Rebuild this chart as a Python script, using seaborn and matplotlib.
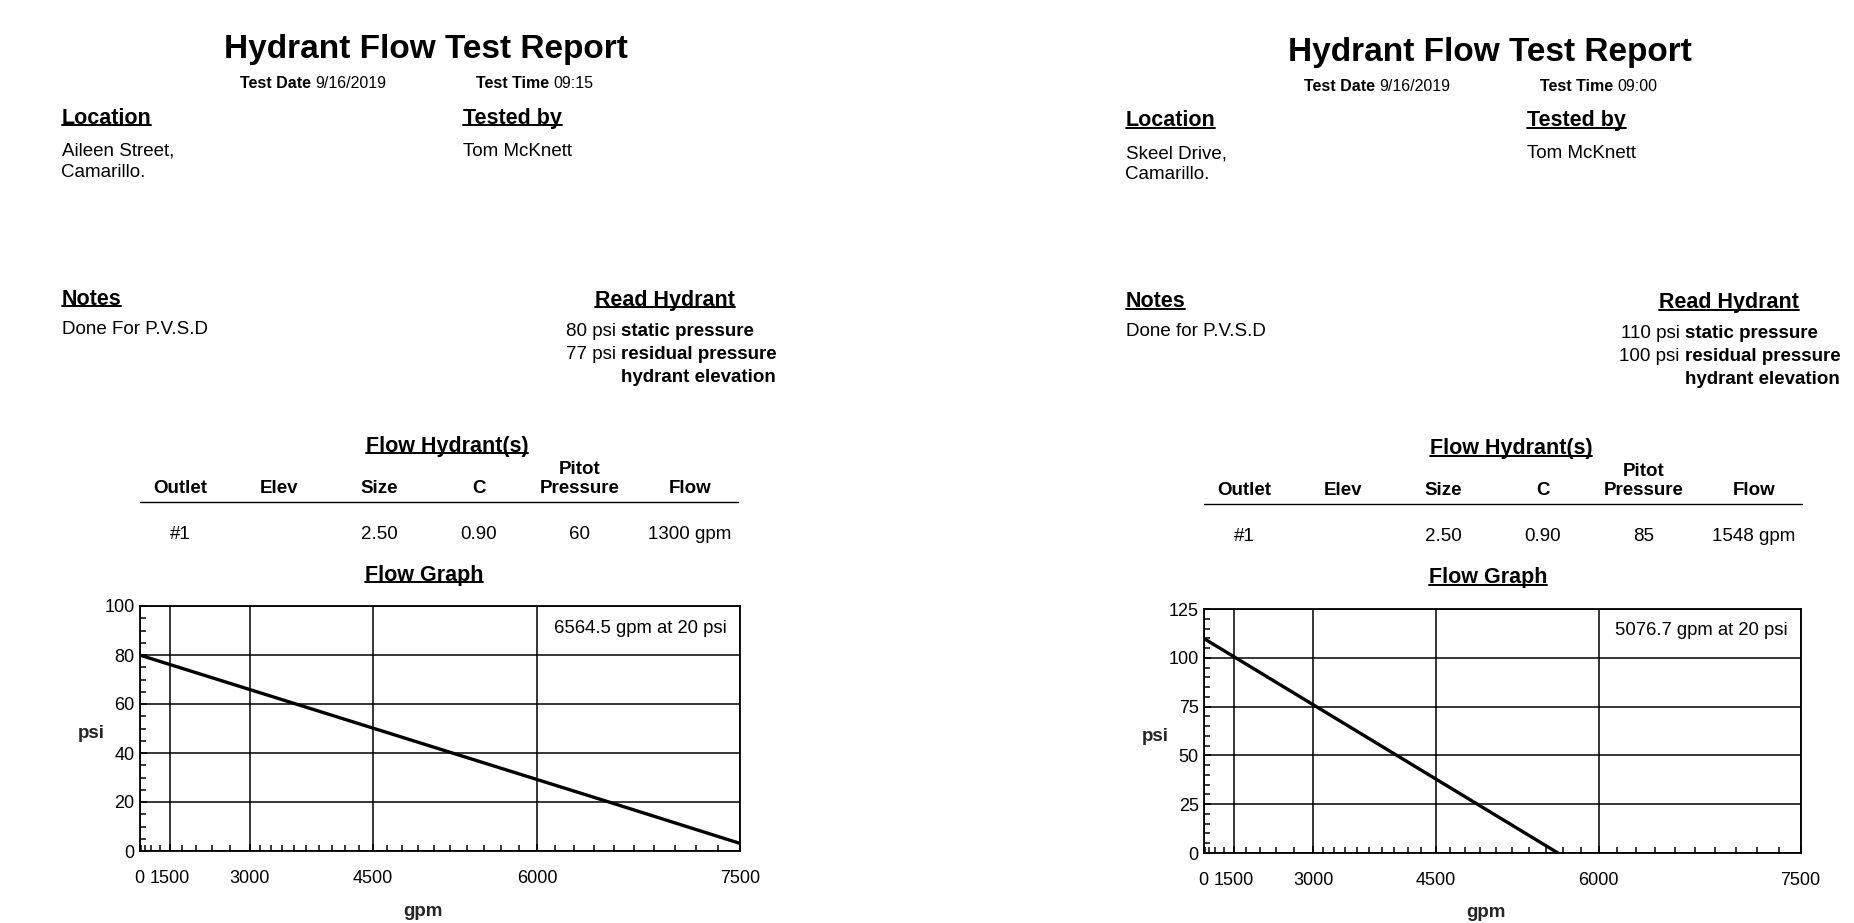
import numpy as np
import matplotlib

matplotlib.use("Agg")
import matplotlib.pyplot as plt
import seaborn as sns
from matplotlib.lines import Line2D

W, H = 1854, 923
PX = 100 / 72  # pixels per point at dpi 100

# Report contents, left report first
report_title = "Hydrant Flow Test Report"
test_dates = ["9/16/2019", "9/16/2019"]
test_times = ["09:15", "09:00"]
locations = [["Aileen Street,", "Camarillo."], ["Skeel Drive,", "Camarillo."]]
testers = ["Tom McKnett", "Tom McKnett"]
notes = ["Done For P.V.S.D", "Done for P.V.S.D"]
static_psi = [80, 110]
residual_psi = [77, 100]
outlet_cols = ["Outlet", "Elev", "Size", "C", "Pressure", "Flow"]
outlet_rows = [
    ["#1", "", "2.50", "0.90", "60", "1300 gpm"],
    ["#1", "", "2.50", "0.90", "85", "1548 gpm"],
]
flow_at_20 = ["6564.5 gpm at 20 psi", "5076.7 gpm at 20 psi"]

# Flow graph (x axis is N^1.85 hydraulic paper)
gpm_ticks = [0, 1500, 3000, 4500, 6000, 7500]
psi_ticks = [[0, 20, 40, 60, 80, 100], [0, 25, 50, 75, 100, 125]]
flow_gpm = [[0, 1300, 6564.5, 7500], [0, 1548, 5076.7, 5658]]
flow_psi = [[80, 77, 20, 3.1], [110, 100, 20, 0]]


def fwd(x):
    x = np.asarray(x, dtype=float)
    return np.sign(x) * np.abs(x) ** 1.85


def inv(x):
    x = np.asarray(x, dtype=float)
    return np.sign(x) * np.abs(x) ** (1 / 1.85)


sns.set_style("ticks")
plt.rcParams["font.family"] = ["Liberation Sans", "DejaVu Sans"]
plt.rcParams["axes.edgecolor"] = "black"
plt.rcParams["text.color"] = "black"
plt.rcParams["xtick.color"] = "black"
plt.rcParams["ytick.color"] = "black"

fig = plt.figure(figsize=(W / 100, H / 100), dpi=100)
renderer = fig.canvas.get_renderer()


def put(x, y, s, size, bold=False, ha="left"):
    # y is the visual middle of the text line; va=center sits a bit high
    return fig.text(x / W, 1 - (y + 2.4) / H, s, ha=ha, va="center", fontsize=size,
                    fontweight="bold" if bold else "normal")


def right_of(t, s, size, bold=False):
    bb = t.get_window_extent(renderer=renderer)
    x = bb.x1 + 0.28 * size * PX
    y = H - (bb.y0 + bb.y1) / 2 - 2.4
    return put(x, y, s, size, bold)


def underline(t, size):
    bb = t.get_window_extent(renderer=renderer)
    ly = (bb.y0 + 0.16 * size * PX) / H
    fig.add_artist(Line2D([bb.x0 / W, bb.x1 / W], [ly, ly], color="black", lw=1.4))


def header(x, y, s, ha="left", size=15.5):
    t = put(x, y, s, size, True, ha)
    underline(t, size)
    return t


def report(k, dx, dy, ax_rect):
    X = lambda v: v + dx
    Y = lambda v: v + dy

    put(X(425.5), Y(47.5), report_title, 24, True, "center")
    t = put(X(240), Y(81.5), "Test Date", 11.5, True)
    right_of(t, test_dates[k], 11.5)
    t = put(X(476), Y(81.5), "Test Time", 11.5, True)
    right_of(t, test_times[k], 11.5)

    header(X(61.5), Y(116), "Location")
    put(X(61.5), Y(149), locations[k][0], 13.5)
    put(X(61.5), Y(170), locations[k][1], 13.5)
    header(X(463), Y(116), "Tested by")
    put(X(463), Y(149), testers[k], 13.5)

    header(X(61.5), Y(297), "Notes")
    put(X(61.5), Y(327), notes[k], 13.5)

    header(X(735), Y(298), "Read Hydrant", "right")
    bx = X(621)
    gap = 0.28 * 13.5 * PX
    put(bx, Y(329), "static pressure", 13.5, True)
    put(bx - gap, Y(329), f"{static_psi[k]} psi", 13.5, False, "right")
    put(bx, Y(352), "residual pressure", 13.5, True)
    put(bx - gap, Y(352), f"{residual_psi[k]} psi", 13.5, False, "right")
    put(bx, Y(375), "hydrant elevation", 13.5, True)

    header(X(447), Y(444), "Flow Hydrant(s)", "center")
    col_x = [180, 279, 379, 479, 580, 690]
    for cx, name in zip(col_x, outlet_cols):
        put(X(cx), Y(486), name, 13.5, True, "center")
    put(X(col_x[4]), Y(467), "Pitot", 13.5, True, "center")
    fig.add_artist(Line2D([X(139.5) / W, X(738) / W], [1 - Y(502) / H] * 2,
                          color="black", lw=1.0))
    for cx, val in zip(col_x, outlet_rows[k]):
        put(X(cx), Y(532), val, 13.5, False, "center")

    header(X(424), Y(573), "Flow Graph", "center")

    ax = fig.add_axes(ax_rect)
    sns.lineplot(x=flow_gpm[k], y=flow_psi[k], ax=ax, color="black",
                 linewidth=2.4, sort=False, estimator=None)
    ax.set_xscale("function", functions=(fwd, inv))
    ax.set_xlim(gpm_ticks[0], gpm_ticks[-1])
    ax.set_ylim(psi_ticks[k][0], psi_ticks[k][-1])
    ax.set_xticks(gpm_ticks)
    ax.set_xticklabels([str(v) for v in gpm_ticks])
    minor_x = [v for v in range(300, 3000, 300) if v != 1500]
    minor_x += [v for v in range(3150, 7500, 150) if v % 1500]
    ax.set_xticks(minor_x, minor=True)
    ax.set_yticks(psi_ticks[k])
    ax.set_yticks(np.arange(0, psi_ticks[k][-1], 5), minor=True)
    ax.grid(which="major", color="black", linewidth=1.1)
    for sp in ax.spines.values():
        sp.set_visible(True)
        sp.set_linewidth(1.3)
        sp.set_color("black")
    ax.tick_params(which="both", direction="in", width=1.1)
    ax.tick_params(which="major", length=5)
    ax.tick_params(which="minor", length=4.5)
    ax.tick_params(axis="x", which="major", labelsize=13, pad=14)
    ax.tick_params(axis="y", which="major", labelsize=13, pad=3.5)
    ax.set_xlabel("gpm", fontsize=13.5, fontweight="bold", va="center")
    ax.set_ylabel("psi", fontsize=13.5, fontweight="bold", rotation=0,
                  va="center", ha="center")
    ax.xaxis.set_label_coords(0.4725, -0.245)
    ax.yaxis.set_label_coords(-0.081, 0.478)
    ax.text(0.978, 0.91, flow_at_20[k], transform=ax.transAxes, ha="right",
            va="center", fontsize=13.3)


report(0, 0, 0, [139.5 / W, 1 - 851 / H, 600.5 / W, 245 / H])
report(1, 1064, 2.4, [1203.5 / W, 1 - 853 / H, 597 / W, 244 / H])

fig.savefig("out.png", dpi=100, facecolor="white")
